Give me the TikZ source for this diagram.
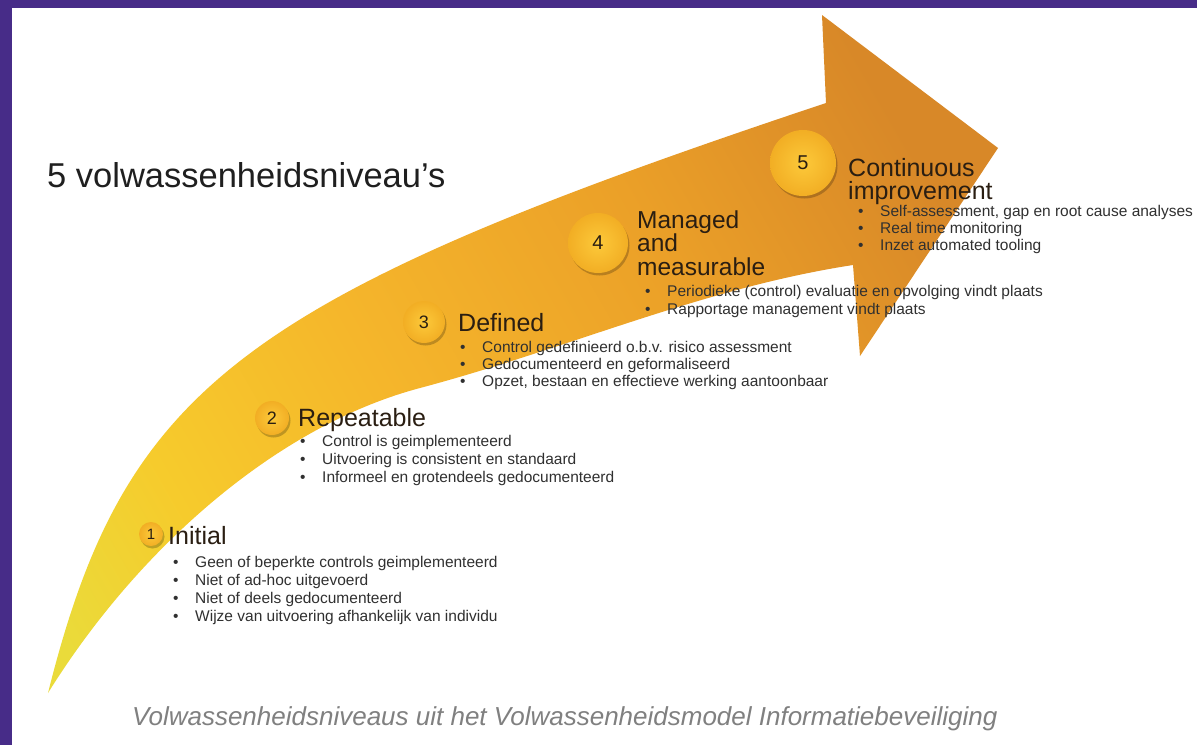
\documentclass[tikz,border=0pt]{standalone}
\usepackage{fontspec}
\setmainfont{Liberation Sans}
\usetikzlibrary{shadows}
\definecolor{purp}{HTML}{472C88}
\definecolor{tipc}{HTML}{EADB3A}
\definecolor{tailc}{HTML}{F6CB2C}
\definecolor{midA}{HTML}{F5B62B}
\definecolor{midB}{HTML}{EBA028}
\definecolor{headc}{HTML}{D88828}
\definecolor{headtxt}{HTML}{2A1E12}
\definecolor{bultxt}{HTML}{303030}
\definecolor{capgray}{HTML}{808080}
\definecolor{circin}{HTML}{FCC93A}
\definecolor{circout}{HTML}{F2AE24}
\pgfdeclarehorizontalshading{arrowshade}{100bp}{color(0bp)=(tipc); color(18bp)=(tipc); color(28bp)=(tailc); color(42bp)=(midA); color(60bp)=(midB); color(76bp)=(headc); color(100bp)=(headc)}
\tikzset{
  headtext/.style={anchor=base west, inner sep=0pt, text=headtxt, font=\fontsize{25}{23}\selectfont},
  headtextsm/.style={anchor=base west, inner sep=0pt, text=headtxt, font=\fontsize{24.5}{23}\selectfont},
  bultext/.style={anchor=base west, inner sep=0pt, text=bultxt, font=\fontsize{15.5}{18}\selectfont},
  numcirc/.style={circle, inner sep=0pt, inner color=circin, outer color=circout, text=headtxt,
    drop shadow={shadow xshift=1.5pt, shadow yshift=-2.5pt, fill=black, opacity=0.22}},
}
\newcommand{\bul}{\llap{\makebox[22pt][l]{\textbullet}}}
\begin{document}
\begin{tikzpicture}[x=1pt,y=-1pt]
\useasboundingbox (0,0) rectangle (1197,745);
\fill[purp] (0,0) rectangle (1197,745);
\fill[white] (12,8) rectangle (1197,745);
% arrow
\shade[shading=arrowshade, shading angle=30]
  (48,693) .. controls (125,386) and (241,298) .. (826,103)
  -- (822,15) -- (998,148) -- (860,356) -- (853,265)
  .. controls (703,288) and (570,348) .. (420,388)
  .. controls (280,425) and (140,545) .. (48,693) -- cycle;
% title
\node[anchor=base west, inner sep=0pt, text=black!88, font=\fontsize{34.5}{40}\selectfont] (title) at (47,187) {5 volwassenheidsniveau’s};
% circles
\node[numcirc, minimum size=66pt, font=\fontsize{20}{24}\selectfont] (c5) at (803,163) {5};
\node[numcirc, minimum size=60pt, font=\fontsize{20}{24}\selectfont] (c4) at (598,243) {4};
\node[numcirc, minimum size=42pt, font=\fontsize{18}{22}\selectfont] (c3) at (424,322) {3};
\node[numcirc, minimum size=34pt, font=\fontsize{18}{22}\selectfont] (c2) at (272,418) {2};
\node[numcirc, minimum size=24pt, font=\fontsize{15}{18}\selectfont] (c1) at (151,534) {1};
% headings
\node[headtext] (h5a) at (848,176) {Continuous};
\node[headtext] (h5b) at (848,199) {improvement};
\node[headtextsm] (h4a) at (637,228) {Managed};
\node[headtextsm] (h4b) at (637,251.5) {and};
\node[headtextsm] (h4c) at (637,275) {measurable};
\node[headtext] (h3) at (458,331) {Defined};
\node[headtext] (h2) at (298,426) {Repeatable};
\node[headtext] (h1) at (168,544) {Initial};
% bullets
\foreach \t [count=\i] in {{Self-assessment, gap en root cause analyses},{Real time monitoring},{Inzet automated tooling}}
  \node[bultext] (b5\i) at (880,{216+17*(\i-1)}) {\bul\t};
\foreach \t [count=\i] in {{Periodieke (control) evaluatie en opvolging vindt plaats},{Rapportage management vindt plaats}}
  \node[bultext] (b4\i) at (667,{296+18*(\i-1)}) {\bul\t};
\foreach \t [count=\i] in {{Control gedefinieerd o.b.v. risico assessment},{Gedocumenteerd en geformaliseerd},{Opzet, bestaan en effectieve werking aantoonbaar}}
  \node[bultext] (b3\i) at (482,{352+17*(\i-1)}) {\bul\t};
\foreach \t [count=\i] in {{Control is geimplementeerd},{Uitvoering is consistent en standaard},{Informeel en grotendeels gedocumenteerd}}
  \node[bultext] (b2\i) at (322,{446+18*(\i-1)}) {\bul\t};
\foreach \t [count=\i] in {{Geen of beperkte controls geimplementeerd},{Niet of ad-hoc uitgevoerd},{Niet of deels gedocumenteerd},{Wijze van uitvoering afhankelijk van individu}}
  \node[bultext] (b1\i) at (195,{567+18*(\i-1)}) {\bul\t};
% caption
\node[anchor=base west, inner sep=0pt, text=capgray, font=\fontsize{26}{30}\selectfont\itshape] (cap) at (132,725) {Volwassenheidsniveaus uit het Volwassenheidsmodel Informatiebeveiliging};
\end{tikzpicture}
\end{document}
